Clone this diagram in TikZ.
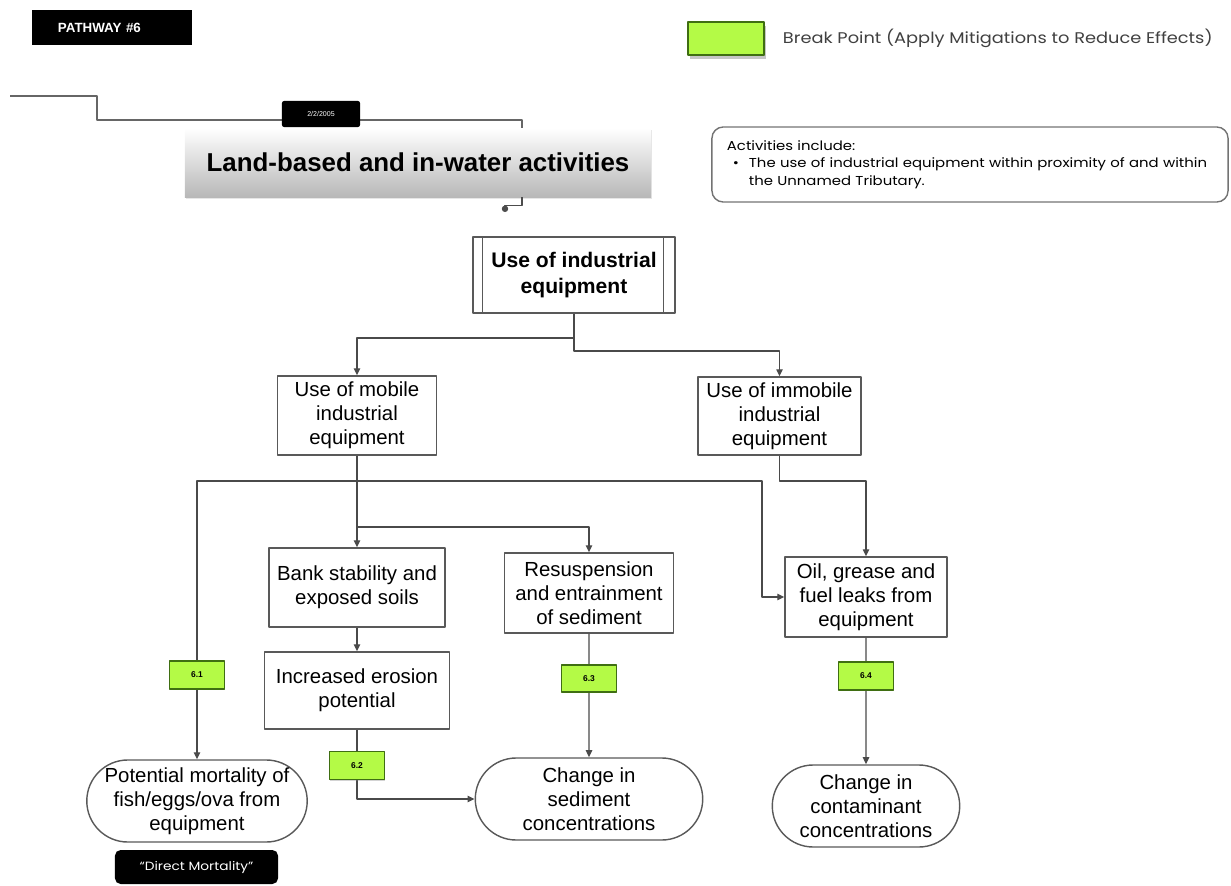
\documentclass[tikz,border=0pt]{standalone}
\usepackage{fontspec}
\setmainfont{Liberation Sans}
\newfontfamily\gothic[FakeStretch=1.15]{Poppins}
\usetikzlibrary{arrows.meta,positioning,shapes.misc,shadows}
\definecolor{bpgreen}{HTML}{B4FA46}
\definecolor{bpedge}{HTML}{3F6E12}
\definecolor{lnk}{HTML}{4A4A4A}

\begin{document}
\begin{tikzpicture}[x=0.025cm,y=-0.025cm,>={Triangle[length=5pt,width=4.5pt]},line join=round,
  box/.style={draw=black!65,line width=1pt,fill=white,align=center,inner sep=2pt,
    font=\fontsize{14.5}{17}\selectfont},
  oval/.style={box,rounded rectangle,minimum height=2.05cm},
  brk/.style={draw=bpedge,line width=1pt,fill=bpgreen,
    drop shadow={opacity=.35,shadow xshift=.6pt,shadow yshift=-1pt},
    minimum width=1.375cm,minimum height=0.7cm,font=\bfseries\fontsize{6}{7}\selectfont},
  conn/.style={draw=lnk,line width=1pt},
  blk/.style={fill=black,text=white,inner sep=0pt}]
  \useasboundingbox (0,0) rectangle (1231,886);

  % header
  \node[blk,minimum width=4cm,minimum height=0.875cm,text width=2.7cm,align=left,
    font=\bfseries\fontsize{9.5}{11}\selectfont] (pw) at (112,27.5) {PATHWAY \#6};
  \node[brk,minimum width=1.9cm,minimum height=0.825cm,drop shadow={opacity=.45,shadow xshift=1.5pt,shadow yshift=-2.5pt}] (leg) at (726,38.5) {};
  \node[anchor=west,text=black!75,font=\gothic\fontsize{11}{13}\selectfont] (legtxt) at (778,38) {Break Point (Apply Mitigations to Reduce Effects)};

  \node[minimum width=11.65cm,minimum height=1.725cm,top color=white,bottom color=black!28,
    drop shadow={opacity=.2,shadow xshift=1pt,shadow yshift=-1.5pt},
    font=\bfseries\fontsize{18.4}{21}\selectfont] (title) at (418,162.5) {Land-based and in-water activities};

  \coordinate (t0) at (10,96);
  \coordinate (t1) at (522,120);
  \coordinate (t2) at (505,212);
  \draw[draw=black!60,line width=0.8pt] (t0) -- (97,96) |- (t1) -- (title.north -| t1);
  \draw[draw=black!70,line width=0.8pt,-{Circle[length=4.5pt]}] (title.south -| t1) -- ++(0,8) -| (t2);
  \node[blk,rounded corners=1.5pt,minimum width=1.95cm,minimum height=0.65cm,font=\fontsize{5}{6}\selectfont] (date) at (321,114) {2/2/2005};

  \node[draw=black!55,line width=1pt,rounded corners=8pt,minimum width=12.9cm,minimum height=1.875cm,
    text width=12.15cm,align=left,font=\gothic\fontsize{9.2}{12.5}\selectfont] (acts) at (970,164.5)
    {Activities include:\\\makebox[0.55cm][l]{\hspace{0.15cm}\textbullet}The use of industrial equipment within proximity of and within\\\hspace*{0.55cm}the Unnamed Tributary.};

  % boxes
  \node[box,font=\bfseries\fontsize{15}{18}\selectfont,minimum width=5.05cm,minimum height=1.9cm] (ind) at (574,275) {Use of industrial\\equipment};
  \draw[draw=black!65,line width=1pt] ([xshift=0.25cm]ind.north west) -- ([xshift=0.25cm]ind.south west);
  \draw[draw=black!65,line width=1pt] ([xshift=-0.3cm]ind.north east) -- ([xshift=-0.3cm]ind.south east);

  \node[box,minimum width=3.975cm,minimum height=1.975cm] (mob) at (357,415.5) {Use of mobile\\industrial\\equipment};
  \node[box,minimum width=4.075cm,minimum height=1.95cm] (imm) at (779.5,416) {Use of immobile\\industrial\\equipment};
  \node[box,minimum width=4.4cm,minimum height=1.975cm] (bank) at (357,587.5) {Bank stability and\\exposed soils};
  \node[box,minimum width=4.625cm,minimum height=1.925cm] (eros) at (357,690.5) {Increased erosion\\potential};
  \node[box,minimum width=4.225cm,minimum height=2cm] (resus) at (589,593) {Resuspension\\and entrainment\\of sediment};
  \node[box,minimum width=4.05cm,minimum height=2cm] (oil) at (866,597) {Oil, grease and\\fuel leaks from\\equipment};

  \node[oval,minimum width=5.65cm] (mort) at (197,801) {Potential mortality of\\fish/eggs/ova from\\equipment};
  \node[oval,minimum width=5.825cm] (sed) at (589,799) {Change in\\sediment\\concentrations};
  \node[oval,minimum width=4.825cm] (cont) at (866,806) {Change in\\contaminant\\concentrations};

  \node[blk,rounded corners=4pt,minimum width=4.075cm,minimum height=0.85cm,font=\gothic\fontsize{8.5}{10}\selectfont] (dm) at (196.5,867) {“Direct Mortality”};

  % connectors
  \coordinate (j1) at (572,338);
  \coordinate (j2) at (572,351);
  \coordinate (hb) at (357,481);
  \coordinate (hr) at (762,481);
  \coordinate (hm) at (357,527);
  \draw[conn,->] (ind.south) -- (ind.south |- j1) -| (mob.north);
  \draw[conn,->] (ind.south |- j1) -- (ind.south |- j2) -| (imm.north);
  \draw[conn,->] (mob.south) -- (hb) -| (mort.north);
  \draw[conn,->] (hb) -- (hr) |- (oil.west);
  \draw[conn,->] (hb) -- (bank.north);
  \draw[conn,->] (hm) -| (resus.north);
  \draw[conn,->] (imm.south) -- (imm.south |- hb) -| (oil.north);
  \draw[conn,->] (bank) -- (eros);
  \draw[conn,->] (eros.south) |- (sed.west);
  \draw[conn,->] (resus) -- (sed);
  \draw[conn,->] (oil) -- (cont);

  % break points
  \node[brk] (bp1) at (197,675) {6.1};
  \node[brk] (bp2) at (357,765.5) {6.2};
  \node[brk,minimum height=0.675cm] (bp3) at (589,678.5) {6.3};
  \node[brk] (bp4) at (866,676) {6.4};
\end{tikzpicture}
\end{document}
